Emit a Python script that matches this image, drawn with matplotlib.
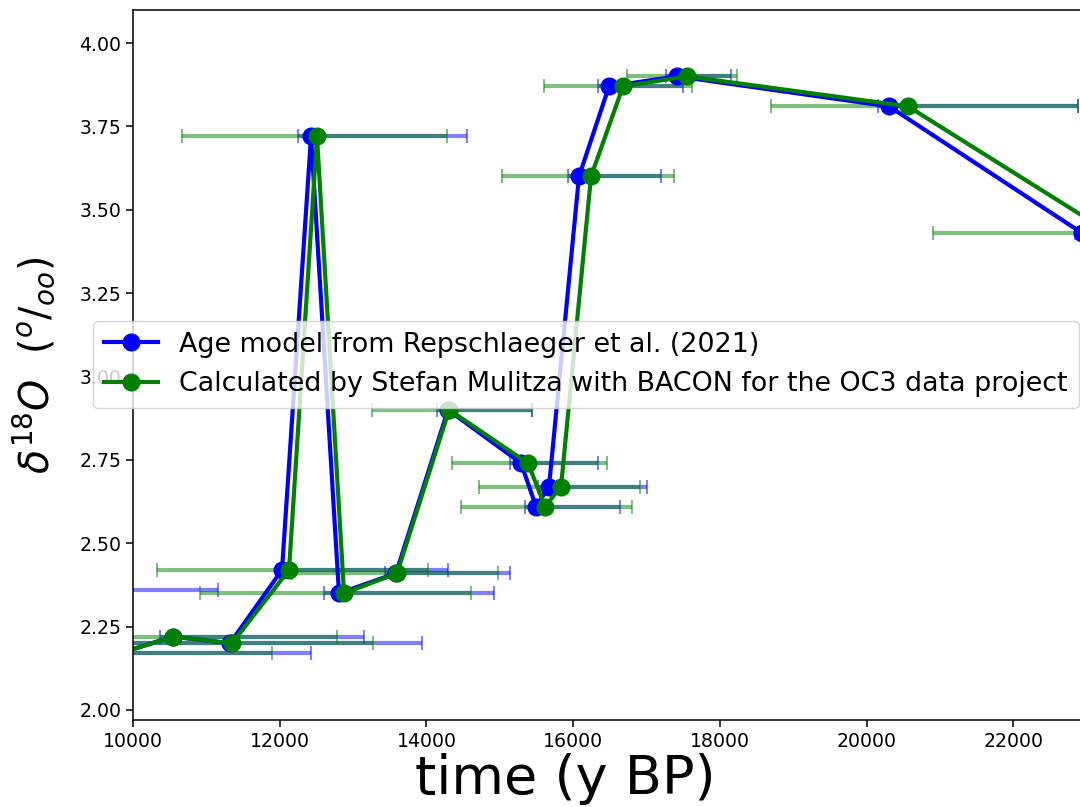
import numpy as np
import matplotlib
matplotlib.use('Agg')
import matplotlib.pyplot as plt
from matplotlib.ticker import FormatStrFormatter

# d18O vs age, two age models (points kept in depth order)
d18o = [2.36, 2.17, 2.22, 2.20, 2.42, 3.72, 2.35, 2.41, 2.90, 2.74, 2.61, 2.67, 3.60, 3.87, 3.90, 3.81, 3.43]

# Repschlaeger et al. (2021)
age_rep = [9000, 9820, 10545, 11322, 12031, 12427, 12808, 13585, 14294, 15290, 15494, 15671, 16080, 16489, 17417, 20307, 22938]
age_rep_lo = [150, 150, 180, 1450, 70, 180, 200, 150, 150, 150, 150, 150, 150, 150, 150, 150, 100]
age_rep_hi = [2160, 2610, 2605, 2620, 2265, 2125, 2115, 1555, 1145, 1050, 1145, 1335, 1120, 1010, 735, 2575, 1000]

# BACON (OC3)
age_bac = [8950, 9820, 10550, 11350, 12127, 12508, 12877, 13600, 14310, 15385, 15617, 15835, 16244, 16680, 17553, 20566, 23320]
age_bac_lo = [1000, 1800, 1800, 1900, 1800, 1840, 1965, 1430, 1050, 1035, 1145, 1120, 1215, 1075, 820, 1870, 2415]
age_bac_hi = [800, 2075, 2230, 1920, 1895, 1770, 1730, 1375, 1130, 1075, 1185, 1075, 1130, 940, 680, 2315, 1000]

fig = plt.figure(figsize=(10.8, 8.07), dpi=100)
ax = fig.add_axes([133/1080, 87/807, 1027/1080, 710/807])

ax.errorbar(age_rep, d18o, xerr=[age_rep_lo, age_rep_hi], fmt='none', ecolor='b',
            alpha=0.5, elinewidth=3, capsize=5, capthick=1.5, zorder=1)
ax.errorbar(age_bac, d18o, xerr=[age_bac_lo, age_bac_hi], fmt='none', ecolor='g',
            alpha=0.5, elinewidth=3, capsize=5, capthick=1.5, zorder=1)

ax.plot(age_rep, d18o, 'b-o', lw=3, ms=12, label='Age model from Repschlaeger et al. (2021)', zorder=2)
ax.plot(age_bac, d18o, 'g-o', lw=3, ms=12,
        label='Calculated by Stefan Mulitza with BACON for the OC3 data project', zorder=2)

ax.set_xlim(10000, 24000)
ax.set_ylim(1.97, 4.099)
ax.set_xticks(np.arange(10000, 22001, 2000))
ax.set_yticks(np.arange(2.0, 4.01, 0.25))
ax.yaxis.set_major_formatter(FormatStrFormatter('%.2f'))
ax.tick_params(labelsize=13.6, length=5, width=1.1)
for s in ax.spines.values():
    s.set_linewidth(1.1)

ax.set_xlabel('time (y BP)', fontsize=39)
ax.xaxis.set_label_coords((565 - 133) / 1027, -0.047)
ax.set_ylabel(r'$\delta^{18}O\ \ (^o/_{oo})$', fontsize=28.5)
ax.yaxis.set_label_coords(-0.074, 0.5)

ax.legend(loc='upper left', bbox_to_anchor=(93/1080, 1 - 321/807), bbox_transform=fig.transFigure,
          borderaxespad=0, fontsize=19.4)

fig.savefig('out.png', dpi=100)
